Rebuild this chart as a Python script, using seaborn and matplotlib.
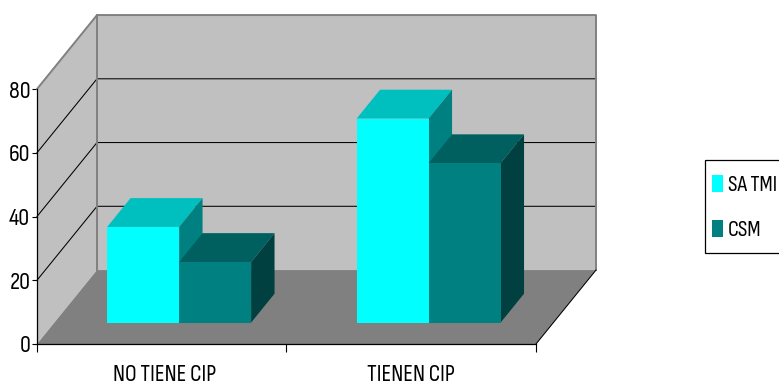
import matplotlib
matplotlib.use("Agg")
import matplotlib.pyplot as plt
from matplotlib.patches import Rectangle
import pandas as pd
import seaborn as sns

categories = ["NO TIENE CIP", "TIENEN CIP"]
satmi = [30, 64]
csm = [19, 50]
series_names = ["SA TMI", "CSM"]
y_ticks = [0, 20, 40, 60, 80]

FONT = ["Sofia Sans Condensed", "Liberation Sans", "DejaVu Sans"]
WALL, FLOOR, EDGE = "#C0C0C0", "#808080", "#808080"
SHADES = {
    "SA TMI": ("#00FFFF", "#00BFBF", "#008080"),
    "CSM": ("#008080", "#006060", "#004040"),
}

sns.set_theme(style="white")
plt.rcParams["font.family"] = FONT

df = pd.DataFrame({
    "group": categories * 2,
    "series": [series_names[0]] * 2 + [series_names[1]] * 2,
    "value": satmi + csm,
})

fig = plt.figure(figsize=(7.79, 3.85), dpi=100)
ax = fig.add_axes([37 / 779, 41 / 385, 499 / 779, 255 / 385])

sns.barplot(
    data=df, x="group", y="value", hue="series", hue_order=series_names,
    palette={k: v[0] for k, v in SHADES.items()},
    width=0.577, dodge=True, gap=0, saturation=1, linewidth=0, ax=ax,
)
ax.set_xlim(-0.5, 1.5)
ax.set_ylim(0, 80)

# Oblique projection: depth 1 moves a point along this vector in data units.
DX, DY = 60 / 249.5, 23.2
BAR_NEAR, BAR_FAR = 0.29, 0.68


def proj(x, y, depth):
    return x + DX * depth, y + DY * depth


def face(points, **kw):
    xs, ys = zip(*[proj(*p) for p in points])
    ax.fill(xs, ys, clip_on=False, linewidth=0, **kw)


def edge(points, color, lw, z=1.5):
    xs, ys = zip(*[proj(*p) for p in points])
    ax.plot(xs, ys, color=color, lw=lw, clip_on=False, zorder=z,
            solid_capstyle="projecting")


# Walls and floor of the box
x0, x1 = -0.5, 1.5
face([(x0, 0, 1), (x1, 0, 1), (x1, 80, 1), (x0, 80, 1)], color=WALL, zorder=1)
face([(x0, 0, 0), (x0, 0, 1), (x0, 80, 1), (x0, 80, 0)], color=WALL, zorder=1)
face([(x0, 0, 0), (x1, 0, 0), (x1, 0, 1), (x0, 0, 1)], color=FLOOR, zorder=1.1)

for v in y_ticks[1:-1]:
    edge([(x0, v, 0), (x0, v, 1), (x1, v, 1)], "#000000", 0.75, z=1.2)
edge([(x0, 80, 0), (x0, 80, 1), (x1, 80, 1), (x1, 0, 1)], EDGE, 1.4)
edge([(x0, 0, 1), (x0, 80, 1)], EDGE, 1.4)
edge([(x1, 0, 0), (x1, 0, 1)], "#000000", 0.75)

# Lift each bar onto the floor and add its top and side faces
for s, container in enumerate(ax.containers):
    name = series_names[s]
    front, top, side = SHADES[name]
    base = 3 + s
    for patch in container:
        x, w, h = patch.get_x(), patch.get_width(), patch.get_height()
        xn, yn = proj(x, 0, BAR_NEAR)
        patch.set_x(xn)
        patch.set_y(yn)
        patch.set_clip_on(False)
        patch.set_zorder(base + 0.2)
        xr = x + w
        face([(x, h, BAR_NEAR), (xr, h, BAR_NEAR), (xr, h, BAR_FAR), (x, h, BAR_FAR)],
             color=top, zorder=base)
        face([(xr, 0, BAR_NEAR), (xr, h, BAR_NEAR), (xr, h, BAR_FAR), (xr, 0, BAR_FAR)],
             color=side, zorder=base)

# Axes and labels
for name in ("top", "right"):
    ax.spines[name].set_visible(False)
for name in ("left", "bottom"):
    ax.spines[name].set_color("#000000")
    ax.spines[name].set_linewidth(0.9)
    ax.spines[name].set_zorder(2)

ax.set_xlabel("")
ax.set_ylabel("")
ax.set_yticks(y_ticks)
ax.set_xticks([-0.5, 0.5, 1.5])
ax.set_xticklabels([])
ax.set_xticks([0.011, 1], labels=categories, minor=True)
ax.tick_params(axis="y", which="major", left=True, length=3.3, width=0.8,
               color="#000000", labelsize=17.5, pad=1.5, labelcolor="#000000")
ax.tick_params(axis="x", which="major", bottom=True, length=5.5, width=0.8,
               color="#000000")
ax.tick_params(axis="x", which="minor", bottom=False, length=0, labelsize=17,
               pad=14.5, labelcolor="#000000")

# Legend box runs past the right edge of the figure
fig.add_artist(Rectangle((705 / 779, 1 - 253 / 385), 85 / 779, 93 / 385,
                         transform=fig.transFigure, facecolor="white",
                         edgecolor="#000000", linewidth=0.9, zorder=-1))
handles, labels = ax.get_legend_handles_labels()
ax.legend(
    handles, labels,
    loc="upper left", bbox_to_anchor=(705 / 779, 1 - 168 / 385),
    bbox_transform=fig.transFigure, borderaxespad=0,
    fontsize=16, frameon=False, handlelength=0.5, handleheight=0.8,
    handletextpad=0.22, labelspacing=1.14, borderpad=0.3, labelcolor="#000000",
)

fig.savefig("out.png", dpi=100, facecolor="white")
